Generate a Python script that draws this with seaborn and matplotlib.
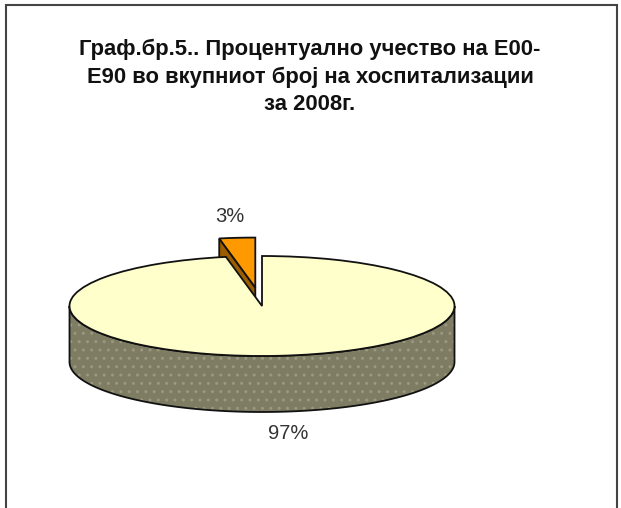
import numpy as np
import matplotlib
matplotlib.use("Agg")
import matplotlib.pyplot as plt
from matplotlib.patches import Polygon, Rectangle
import seaborn as sns

# Data: share of E00-E90 in total hospitalisations, 2008
categories = ["E00-E90", "Останати"]
shares = [3, 97]
explode = [0.37, 0.0]
top_colors = ["#ff9900", "#ffffcc"]
side_colors = ["#9c5c00", "#7e7c62"]
title_lines = [
    "Граф.бр.5.. Процентуално учество на Е00-",
    "Е90 во вкупниот број на хоспитализации",
    "за 2008г.",
]

sns.set_theme(style="white")
plt.rcParams["font.family"] = ["Liberation Sans", "DejaVu Sans"]

W, H = 621, 508
fig = plt.figure(figsize=(W / 100, H / 100), dpi=100)
ax = fig.add_axes([0, 0, 1, 1])

# pixel geometry of the disc
cx_px, cy_px = 262, 306      # centre of top face (from top-left)
rx_px, ry_px = 192.5, 50     # semi-axes of top face
depth = 56 / ry_px           # thickness in y data units
lw = 1.3

wedges, _ = ax.pie(shares, explode=explode, startangle=90, counterclock=True,
                   colors=top_colors, radius=1.0,
                   wedgeprops=dict(edgecolor="#111111", linewidth=lw))
ax.set_aspect("auto")
ax.set_xlim(-cx_px / rx_px, (W - cx_px) / rx_px)
ax.set_ylim(-(H - cy_px) / ry_px, cy_px / ry_px)
ax.axis("off")


def arc(cx, cy, a1, a2, n=120):
    t = np.radians(np.linspace(a1, a2, n))
    return np.column_stack([cx + np.cos(t), cy + np.sin(t)])


z = 1
for w, side_col in zip(wedges, side_colors):
    cx, cy = w.center
    t1, t2 = w.theta1, w.theta2
    sides = []
    # outer curved wall visible in front half (180..360 deg)
    for k in range(-1, 3):
        lo = max(t1, 180 + 360 * k)
        hi = min(t2, 360 + 360 * k)
        if hi > lo:
            top = arc(cx, cy, lo, hi)
            bot = top[::-1] - [0, depth]
            sides.append((np.vstack([top, bot]), True))
    # radial walls facing the viewer
    for ang, sgn in ((t1, -1), (t2, 1)):
        normal = np.radians(ang + 90 * sgn)
        if np.sin(normal) < -1e-6:
            e = np.array([cx + np.cos(np.radians(ang)), cy + np.sin(np.radians(ang))])
            c = np.array([cx, cy])
            sides.append((np.array([c, e, e - [0, depth], c - [0, depth]]), False))
    for pts, curved in sides:
        if curved:
            ax.add_patch(Polygon(pts, closed=True, facecolor=side_col,
                                 edgecolor="#9a987f", hatch="..", linewidth=0, zorder=z))
        else:
            ax.add_patch(Polygon(pts, closed=True, facecolor=side_col,
                                 edgecolor="none", zorder=z))
        ax.add_patch(Polygon(pts, closed=True, fill=False, edgecolor="#111111",
                             linewidth=lw, zorder=z + 0.1))
    w.set_zorder(z + 1)
    z += 2

# percentage labels
for w, v in zip(wedges, shares):
    cx, cy = w.center
    m = np.radians((w.theta1 + w.theta2) / 2)
    r = 1.43
    x = cx + r * np.cos(m)
    y = cy + r * np.sin(m) - (depth if np.sin(m) < 0 else 0)
    ax.text(x, y, f"{v:.0f}%", ha="center", va="center", fontsize=14.5,
            color="#333333", zorder=20)

# title
for line, base in zip(title_lines, [55, 83, 110]):
    fig.text(310 / W, 1 - base / H, line, ha="center", va="baseline",
             fontsize=15.8, fontweight="bold", color="#111111")

# outer frame
fig.patches.append(Rectangle((6 / W, -0.05), (617 - 6) / W, 1.05 - 5 / H,
                             transform=fig.transFigure, fill=False,
                             edgecolor="#444444", linewidth=1.5))

fig.savefig("out.png", dpi=100)
